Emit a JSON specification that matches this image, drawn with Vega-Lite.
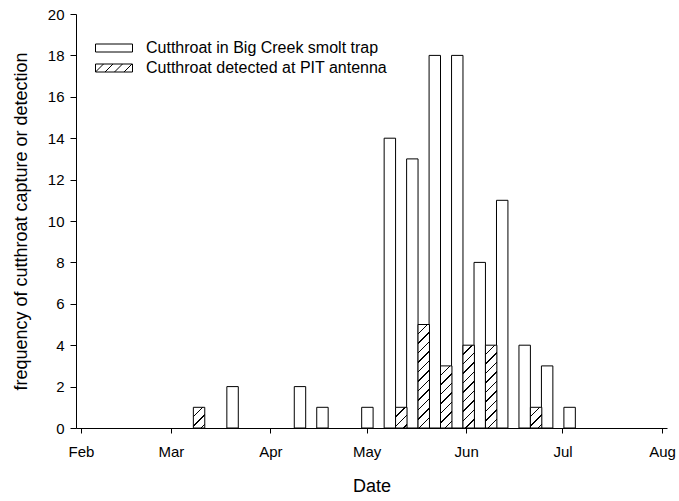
{
  "$schema": "https://vega.github.io/schema/vega-lite/v6.json",
  "width": 591,
  "height": 414,
  "autosize": {"type": "none"},
  "padding": {"left": 76, "top": 14, "right": 12, "bottom": 73},
  "background": "white",
  "config": {
    "view": {"stroke": null},
    "font": "Liberation Sans",
    "axis": {
      "grid": false,
      "domainColor": "black",
      "tickColor": "black",
      "labelColor": "black",
      "titleColor": "black",
      "labelFont": "Liberation Sans",
      "titleFont": "Liberation Sans",
      "titleFontWeight": "normal",
      "labelFontSize": 15,
      "titleFontSize": 18
    },
    "legend": {"labelFont": "Liberation Sans", "labelColor": "black"}
  },
  "data": {
    "values": [
      {"week": "2009-03-08", "series": "Cutthroat detected at PIT antenna", "count": 1},
      {"week": "2009-03-22", "series": "Cutthroat in Big Creek smolt trap", "count": 2},
      {"week": "2009-04-12", "series": "Cutthroat in Big Creek smolt trap", "count": 2},
      {"week": "2009-04-19", "series": "Cutthroat in Big Creek smolt trap", "count": 1},
      {"week": "2009-05-03", "series": "Cutthroat in Big Creek smolt trap", "count": 1},
      {"week": "2009-05-10", "series": "Cutthroat in Big Creek smolt trap", "count": 14},
      {"week": "2009-05-10", "series": "Cutthroat detected at PIT antenna", "count": 1},
      {"week": "2009-05-17", "series": "Cutthroat in Big Creek smolt trap", "count": 13},
      {"week": "2009-05-17", "series": "Cutthroat detected at PIT antenna", "count": 5},
      {"week": "2009-05-24", "series": "Cutthroat in Big Creek smolt trap", "count": 18},
      {"week": "2009-05-24", "series": "Cutthroat detected at PIT antenna", "count": 3},
      {"week": "2009-05-31", "series": "Cutthroat in Big Creek smolt trap", "count": 18},
      {"week": "2009-05-31", "series": "Cutthroat detected at PIT antenna", "count": 4},
      {"week": "2009-06-07", "series": "Cutthroat in Big Creek smolt trap", "count": 8},
      {"week": "2009-06-07", "series": "Cutthroat detected at PIT antenna", "count": 4},
      {"week": "2009-06-14", "series": "Cutthroat in Big Creek smolt trap", "count": 11},
      {"week": "2009-06-21", "series": "Cutthroat in Big Creek smolt trap", "count": 4},
      {"week": "2009-06-21", "series": "Cutthroat detected at PIT antenna", "count": 1},
      {"week": "2009-06-28", "series": "Cutthroat in Big Creek smolt trap", "count": 3},
      {"week": "2009-07-05", "series": "Cutthroat in Big Creek smolt trap", "count": 1}
    ]
  },
  "encoding": {
    "x": {
      "field": "week",
      "type": "temporal",
      "scale": {
        "domain": [
          {"year": 2009, "month": 2, "date": 1},
          {"year": 2009, "month": 8, "date": 1}
        ]
      },
      "axis": {
        "title": "Date",
        "format": "%b",
        "values": [
          {"year": 2009, "month": 2, "date": 1},
          {"year": 2009, "month": 3, "date": 1},
          {"year": 2009, "month": 4, "date": 1},
          {"year": 2009, "month": 5, "date": 1},
          {"year": 2009, "month": 6, "date": 1},
          {"year": 2009, "month": 7, "date": 1},
          {"year": 2009, "month": 8, "date": 1}
        ],
        "tickSize": 5,
        "labelPadding": 11,
        "labelDx": -5,
        "titlePadding": 18
      }
    },
    "y": {
      "field": "count",
      "type": "quantitative",
      "scale": {"domain": [0, 20], "nice": false},
      "axis": {
        "title": "frequency of cutthroat capture or detection",
        "values": [0, 2, 4, 6, 8, 10, 12, 14, 16, 18, 20],
        "tickSize": 6,
        "labelPadding": 6,
        "titlePadding": 17
      }
    }
  },
  "layer": [
    {
      "transform": [{"filter": "datum.series === 'Cutthroat in Big Creek smolt trap'"}],
      "mark": {"type": "bar", "width": 11.43, "xOffset": -5.715, "fill": "white", "stroke": "black", "strokeWidth": 1}
    },
    {
      "transform": [{"filter": "datum.series === 'Cutthroat detected at PIT antenna'"}],
      "mark": {"type": "bar", "width": 11.43, "xOffset": 5.715, "stroke": "black", "strokeWidth": 1},
      "encoding": {
        "fill": {
          "condition": [
            {
              "test": "datum.count === 1",
              "value": {
                "gradient": "linear", "x1": 0, "y1": 0, "x2": 0.657, "y2": 1.1896,
                "stops": [
                  {"offset": 0, "color": "white"},
                  {"offset": 0.2724, "color": "white"}, {"offset": 0.2724, "color": "black"},
                  {"offset": 0.319, "color": "black"}, {"offset": 0.319, "color": "white"},
                  {"offset": 0.568, "color": "white"}, {"offset": 0.568, "color": "black"},
                  {"offset": 0.6146, "color": "black"}, {"offset": 0.6146, "color": "white"},
                  {"offset": 0.8637, "color": "white"}, {"offset": 0.8637, "color": "black"},
                  {"offset": 0.9103, "color": "black"}, {"offset": 0.9103, "color": "white"},
                  {"offset": 1, "color": "white"}
                ]
              }
            },
            {
              "test": "datum.count === 3",
              "value": {
                "gradient": "linear", "x1": 0, "y1": 0, "x2": 0.2108, "y2": 1.1453,
                "stops": [
                  {"offset": 0, "color": "white"},
                  {"offset": 0.119, "color": "white"}, {"offset": 0.119, "color": "black"},
                  {"offset": 0.1394, "color": "black"}, {"offset": 0.1394, "color": "white"},
                  {"offset": 0.2482, "color": "white"}, {"offset": 0.2482, "color": "black"},
                  {"offset": 0.2686, "color": "black"}, {"offset": 0.2686, "color": "white"},
                  {"offset": 0.3774, "color": "white"}, {"offset": 0.3774, "color": "black"},
                  {"offset": 0.3978, "color": "black"}, {"offset": 0.3978, "color": "white"},
                  {"offset": 0.5066, "color": "white"}, {"offset": 0.5066, "color": "black"},
                  {"offset": 0.527, "color": "black"}, {"offset": 0.527, "color": "white"},
                  {"offset": 0.6358, "color": "white"}, {"offset": 0.6358, "color": "black"},
                  {"offset": 0.6562, "color": "black"}, {"offset": 0.6562, "color": "white"},
                  {"offset": 0.765, "color": "white"}, {"offset": 0.765, "color": "black"},
                  {"offset": 0.7854, "color": "black"}, {"offset": 0.7854, "color": "white"},
                  {"offset": 0.8942, "color": "white"}, {"offset": 0.8942, "color": "black"},
                  {"offset": 0.9146, "color": "black"}, {"offset": 0.9146, "color": "white"},
                  {"offset": 1, "color": "white"}
                ]
              }
            },
            {
              "test": "datum.count === 4",
              "value": {
                "gradient": "linear", "x1": 0, "y1": 0, "x2": 0.15417, "y2": 1.1168,
                "stops": [
                  {"offset": 0, "color": "white"},
                  {"offset": 0.0928, "color": "white"}, {"offset": 0.0928, "color": "black"},
                  {"offset": 0.1088, "color": "black"}, {"offset": 0.1088, "color": "white"},
                  {"offset": 0.1936, "color": "white"}, {"offset": 0.1936, "color": "black"},
                  {"offset": 0.2096, "color": "black"}, {"offset": 0.2096, "color": "white"},
                  {"offset": 0.2944, "color": "white"}, {"offset": 0.2944, "color": "black"},
                  {"offset": 0.3104, "color": "black"}, {"offset": 0.3104, "color": "white"},
                  {"offset": 0.3953, "color": "white"}, {"offset": 0.3953, "color": "black"},
                  {"offset": 0.4113, "color": "black"}, {"offset": 0.4113, "color": "white"},
                  {"offset": 0.4961, "color": "white"}, {"offset": 0.4961, "color": "black"},
                  {"offset": 0.5121, "color": "black"}, {"offset": 0.5121, "color": "white"},
                  {"offset": 0.5969, "color": "white"}, {"offset": 0.5969, "color": "black"},
                  {"offset": 0.6129, "color": "black"}, {"offset": 0.6129, "color": "white"},
                  {"offset": 0.6977, "color": "white"}, {"offset": 0.6977, "color": "black"},
                  {"offset": 0.7137, "color": "black"}, {"offset": 0.7137, "color": "white"},
                  {"offset": 0.7985, "color": "white"}, {"offset": 0.7985, "color": "black"},
                  {"offset": 0.8145, "color": "black"}, {"offset": 0.8145, "color": "white"},
                  {"offset": 0.8994, "color": "white"}, {"offset": 0.8994, "color": "black"},
                  {"offset": 0.9154, "color": "black"}, {"offset": 0.9154, "color": "white"},
                  {"offset": 1, "color": "white"}
                ]
              }
            }
          ],
          "value": {
            "gradient": "linear", "x1": 0, "y1": 0, "x2": 0.12116, "y2": 1.0971,
            "stops": [
              {"offset": 0, "color": "white"},
              {"offset": 0.0762, "color": "white"}, {"offset": 0.0762, "color": "black"},
              {"offset": 0.0892, "color": "black"}, {"offset": 0.0892, "color": "white"},
              {"offset": 0.1588, "color": "white"}, {"offset": 0.1588, "color": "black"},
              {"offset": 0.1718, "color": "black"}, {"offset": 0.1718, "color": "white"},
              {"offset": 0.2415, "color": "white"}, {"offset": 0.2415, "color": "black"},
              {"offset": 0.2545, "color": "black"}, {"offset": 0.2545, "color": "white"},
              {"offset": 0.3241, "color": "white"}, {"offset": 0.3241, "color": "black"},
              {"offset": 0.3371, "color": "black"}, {"offset": 0.3371, "color": "white"},
              {"offset": 0.4068, "color": "white"}, {"offset": 0.4068, "color": "black"},
              {"offset": 0.4198, "color": "black"}, {"offset": 0.4198, "color": "white"},
              {"offset": 0.4895, "color": "white"}, {"offset": 0.4895, "color": "black"},
              {"offset": 0.5025, "color": "black"}, {"offset": 0.5025, "color": "white"},
              {"offset": 0.5721, "color": "white"}, {"offset": 0.5721, "color": "black"},
              {"offset": 0.5851, "color": "black"}, {"offset": 0.5851, "color": "white"},
              {"offset": 0.6548, "color": "white"}, {"offset": 0.6548, "color": "black"},
              {"offset": 0.6678, "color": "black"}, {"offset": 0.6678, "color": "white"},
              {"offset": 0.7374, "color": "white"}, {"offset": 0.7374, "color": "black"},
              {"offset": 0.7504, "color": "black"}, {"offset": 0.7504, "color": "white"},
              {"offset": 0.8201, "color": "white"}, {"offset": 0.8201, "color": "black"},
              {"offset": 0.8331, "color": "black"}, {"offset": 0.8331, "color": "white"},
              {"offset": 0.9027, "color": "white"}, {"offset": 0.9027, "color": "black"},
              {"offset": 0.9157, "color": "black"}, {"offset": 0.9157, "color": "white"},
              {"offset": 1, "color": "white"}
            ]
          }
        }
      }
    },
    {
      "transform": [{"filter": "false"}],
      "mark": {"type": "point", "filled": false, "stroke": "black", "strokeWidth": 1, "opacity": 1, "size": 64},
      "encoding": {
        "shape": {
          "field": "series",
          "type": "nominal",
          "scale": {
            "domain": ["Cutthroat in Big Creek smolt trap", "Cutthroat detected at PIT antenna"],
            "range": [
              "M-4.625,-1H4.625V1H-4.625Z",
              "M-4.625,-1H4.625V1H-4.625Z M-4.625,1L-2.625,-1 M-2.25,1L-0.25,-1 M0.125,1L2.125,-1 M2.5,1L4.5,-1"
            ]
          },
          "legend": {
            "title": null,
            "orient": "none",
            "legendX": 30,
            "legendY": 26,
            "padding": 0,
            "symbolSize": 64,
            "symbolStrokeColor": "black",
            "symbolStrokeWidth": 1,
            "symbolOpacity": 1,
            "labelFontSize": 16,
            "labelLimit": 0,
            "labelOffset": 24,
            "rowPadding": 4
          }
        }
      }
    }
  ]
}
